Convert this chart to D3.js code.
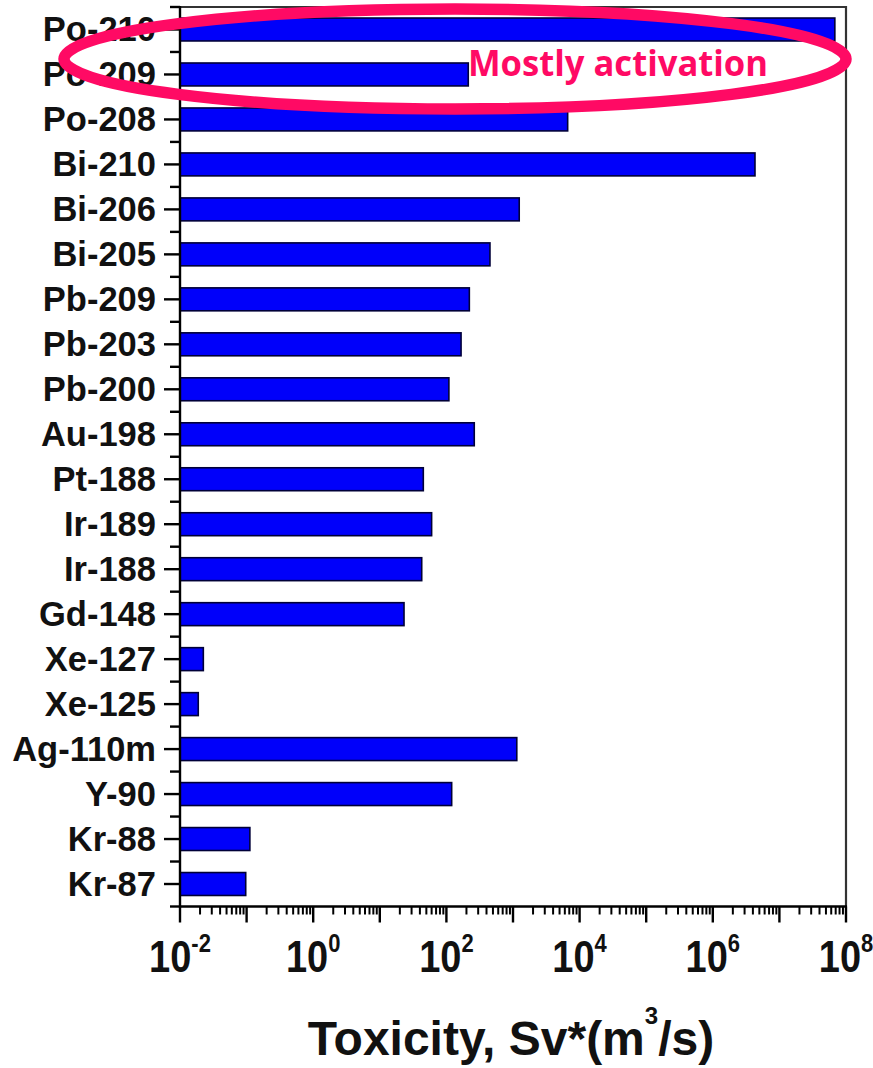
<!DOCTYPE html>
<html>
<head>
<meta charset="utf-8">
<script src="https://cdn.jsdelivr.net/npm/d3@7"></script>
<style>
  html, body { margin: 0; padding: 0; background: #fff; }
  svg { display: block; }
</style>
</head>
<body>
<svg id="chart" width="873" height="1068"></svg>
<script>
// Nuclides, top to bottom
const isotopes = [
  "Po-210", "Po-209", "Po-208", "Bi-210", "Bi-206", "Bi-205", "Pb-209",
  "Pb-203", "Pb-200", "Au-198", "Pt-188", "Ir-189", "Ir-188", "Gd-148",
  "Xe-127", "Xe-125", "Ag-110m", "Y-90", "Kr-88", "Kr-87"
];

// Toxicity, Sv*(m^3/s)
const toxicity = [
  6.8e7, 213, 6620, 4.3e6, 1240, 451, 221,
  166, 109, 262, 45, 60, 42.6, 23.1,
  0.0224, 0.0188, 1140, 120, 0.112, 0.097
];

// Decade exponents labelled on the x axis
const tickExponents = [-2, 0, 2, 4, 6, 8];

const annotationText = "Mostly activation";

const svg = d3.select("#chart");

const plotLeft = 180, plotRight = 846, plotTop = 7, plotBottom = 906.5;

const x = d3.scaleLog().domain([1e-2, 1e8]).range([plotLeft, plotRight]);
const y = d3.scaleBand().domain(isotopes).range([plotTop, plotBottom]).padding(0);

const barH = y.bandwidth() * 0.51;

// Bars
svg.append("g")
  .selectAll("rect")
  .data(isotopes)
  .join("rect")
  .attr("x", plotLeft)
  .attr("y", (d) => y(d) + (y.bandwidth() - barH) / 2)
  .attr("width", (d, i) => x(toxicity[i]) - plotLeft)
  .attr("height", barH)
  .attr("fill", "#0000fa")
  .attr("stroke", "#000038")
  .attr("stroke-width", 1.6);

// Frame (top and right)
svg.append("path")
  .attr("d", `M${plotLeft},${plotTop}H${plotRight}V${plotBottom}`)
  .attr("fill", "none")
  .attr("stroke", "#333")
  .attr("stroke-width", 2.2);

// Left axis: major ticks at categories, minor ticks at band edges
const yAxis = svg.append("g");
yAxis.append("line")
  .attr("x1", plotLeft).attr("x2", plotLeft)
  .attr("y1", plotTop - 1).attr("y2", plotBottom + 1)
  .attr("stroke", "#000").attr("stroke-width", 2.4);

yAxis.selectAll("line.major")
  .data(isotopes)
  .join("line")
  .attr("class", "major")
  .attr("x1", plotLeft - 16).attr("x2", plotLeft)
  .attr("y1", (d) => y(d) + y.bandwidth() / 2)
  .attr("y2", (d) => y(d) + y.bandwidth() / 2)
  .attr("stroke", "#000").attr("stroke-width", 2.4);

const bandEdges = isotopes.map((d) => y(d)).concat([plotBottom]);
yAxis.selectAll("line.minor")
  .data(bandEdges)
  .join("line")
  .attr("class", "minor")
  .attr("x1", plotLeft - 10).attr("x2", plotLeft)
  .attr("y1", (d) => d).attr("y2", (d) => d)
  .attr("stroke", "#000").attr("stroke-width", 2.4);

yAxis.selectAll("text")
  .data(isotopes)
  .join("text")
  .attr("x", 156)
  .attr("y", (d) => y(d) + y.bandwidth() / 2 + 12)
  .attr("text-anchor", "end")
  .attr("font-family", "'Liberation Sans', Arial, sans-serif")
  .attr("font-weight", "bold")
  .attr("font-size", 34.5)
  .attr("fill", "#111")
  .text((d) => d);

// Bottom axis: log scale, decade ticks plus 2..9 minor ticks
const xAxis = svg.append("g");
xAxis.append("line")
  .attr("x1", plotLeft - 1).attr("x2", plotRight + 1)
  .attr("y1", plotBottom).attr("y2", plotBottom)
  .attr("stroke", "#000").attr("stroke-width", 2.4);

const [expMin, expMax] = x.domain().map((v) => Math.round(Math.log10(v)));
const majorTicks = d3.range(expMin, expMax + 1).map((e) => Math.pow(10, e));
const minorTicks = d3.range(expMin, expMax).flatMap((e) =>
  d3.range(2, 10).map((m) => m * Math.pow(10, e)));

xAxis.selectAll("line.major")
  .data(majorTicks)
  .join("line")
  .attr("class", "major")
  .attr("x1", (d) => x(d)).attr("x2", (d) => x(d))
  .attr("y1", plotBottom).attr("y2", plotBottom + 16)
  .attr("stroke", "#000").attr("stroke-width", 2.4);

xAxis.selectAll("line.minor")
  .data(minorTicks)
  .join("line")
  .attr("class", "minor")
  .attr("x1", (d) => x(d)).attr("x2", (d) => x(d))
  .attr("y1", plotBottom).attr("y2", plotBottom + 8)
  .attr("stroke", "#000").attr("stroke-width", 2);

const tickLabels = xAxis.selectAll("text")
  .data(tickExponents)
  .join("text")
  .attr("transform", (e) => `translate(${x(Math.pow(10, e))},972) scale(1,1.15)`)
  .attr("text-anchor", "middle")
  .attr("font-family", "'Liberation Sans', Arial, sans-serif")
  .attr("font-weight", "bold")
  .attr("font-size", 38)
  .attr("fill", "#111");
tickLabels.append("tspan").text("10");
tickLabels.append("tspan")
  .attr("dy", -17)
  .attr("font-size", 22)
  .text((e) => String(e));

// Axis title
const title = svg.append("text")
  .attr("x", 511)
  .attr("y", 1055)
  .attr("text-anchor", "middle")
  .attr("font-family", "'Liberation Sans', Arial, sans-serif")
  .attr("font-weight", "bold")
  .attr("font-size", 48)
  .attr("fill", "#111");
title.append("tspan").text("Toxicity, Sv*(m");
title.append("tspan").attr("dy", -31).attr("font-size", 24).text("3");
title.append("tspan").attr("dy", 31).text("/s)");

// Highlight ellipse around the top nuclides
svg.append("ellipse")
  .attr("cx", 455).attr("cy", 59)
  .attr("rx", 391).attr("ry", 50)
  .attr("fill", "none")
  .attr("stroke", "#ff0a64")
  .attr("stroke-width", 11.5);

svg.append("text")
  .attr("x", 468)
  .attr("y", 76)
  .attr("font-family", "'Open Sans', 'Noto Sans', sans-serif")
  .attr("font-weight", "bold")
  .attr("font-size", 36)
  .attr("textLength", 300)
  .attr("lengthAdjust", "spacingAndGlyphs")
  .attr("fill", "#ff0a64")
  .text(annotationText);
</script>
</body>
</html>
